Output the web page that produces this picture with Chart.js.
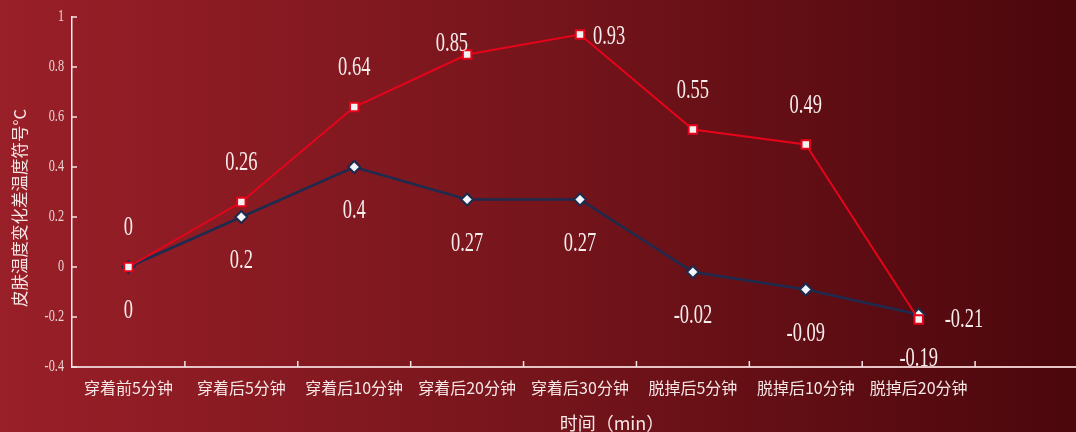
<!DOCTYPE html>
<html>
<head>
<meta charset="utf-8">
<script src="https://cdn.jsdelivr.net/npm/chart.js@4/dist/chart.umd.min.js"></script>
<style>
  html, body { margin: 0; padding: 0; overflow: hidden; }
  body { width: 1076px; height: 432px; background: linear-gradient(to right, #991f28 0%, #7a161d 45%, #4b070c 100%); }
  #wrap { width: 1096px; height: 432px; position: relative; }
</style>
</head>
<body>
<div id="wrap"><canvas id="chart"></canvas></div>
<script>
// categories (last slot is empty, the axis runs past the picture)
const categories = ['穿着前5分钟', '穿着后5分钟', '穿着后10分钟', '穿着后20分钟', '穿着后30分钟', '脱掉后5分钟', '脱掉后10分钟', '脱掉后20分钟', ''];
const redValues  = [0, 0.26, 0.64, 0.85, 0.93, 0.55, 0.49, -0.21];
const blueValues = [0, 0.2, 0.4, 0.27, 0.27, -0.02, -0.09, -0.19];
const redLabelPos  = ['top', 'top', 'top', 'topleft', 'right', 'top', 'top', 'farright'];
const blueLabelPos = ['bottom', 'bottom', 'bottom', 'bottom', 'bottom', 'bottom', 'bottom', 'bottom'];
const yTicks = [1, 0.8, 0.6, 0.4, 0.2, 0, -0.2, -0.4];
const xTitle = '时间（min）';
const yTitle = '皮肤温度变化差温度符号°C';

function condensed(ctx, text, x, y, sx) {
    ctx.save();
    ctx.translate(x, y);
    ctx.scale(sx, 1);
    ctx.fillText(text, 0, 0);
    ctx.restore();
}

const decor = {
    id: 'decor',
    afterDraw(chart) {
        const ctx = chart.ctx;
        const xs = chart.scales.x, ys = chart.scales.y;
        const area = chart.chartArea;

        // inside tick marks
        ctx.save();
        ctx.strokeStyle = '#f4e4e4';
        ctx.lineWidth = 1.5;
        yTicks.forEach(v => {
            const py = ys.getPixelForValue(v);
            ctx.beginPath(); ctx.moveTo(area.left, py); ctx.lineTo(area.left + 5, py); ctx.stroke();
        });
        for (let i = 1; i < categories.length; i++) {
            const px = (xs.getPixelForValue(i - 1) + xs.getPixelForValue(i)) / 2;
            ctx.beginPath(); ctx.moveTo(px, area.bottom); ctx.lineTo(px, area.bottom - 6); ctx.stroke();
        }

        // y tick labels (condensed serif)
        ctx.fillStyle = '#ead4d4';
        ctx.font = '17px "Liberation Serif"';
        ctx.textAlign = 'right';
        ctx.textBaseline = 'middle';
        yTicks.forEach(v => {
            condensed(ctx, String(v), area.left - 8, ys.getPixelForValue(v), 0.72);
        });

        // x category labels
        ctx.fillStyle = '#f6e6e6';
        ctx.font = '16px "Noto Sans CJK SC"';
        ctx.textAlign = 'center';
        categories.forEach((c, i) => {
            if (c) ctx.fillText(c, xs.getPixelForValue(i), area.bottom + 21);
        });

        // axis titles
        ctx.font = '18px "Noto Sans CJK SC"';
        ctx.fillText(xTitle, 612, 423);
        ctx.save();
        ctx.translate(20, 208);
        ctx.rotate(-Math.PI / 2);
        ctx.font = '16.5px "Noto Sans CJK SC"';
        ctx.fillText(yTitle, 0, 0);
        ctx.restore();

        // data labels
        ctx.fillStyle = '#f6ecec';
        ctx.font = '28px "Liberation Serif"';
        ctx.textBaseline = 'middle';
        const drawLabels = (dsIndex, values, pos) => {
            const meta = chart.getDatasetMeta(dsIndex);
            values.forEach((v, i) => {
                const pt = meta.data[i];
                let x = pt.x, y = pt.y;
                ctx.textAlign = 'center';
                if (pos[i] === 'top') y -= 39;
                else if (pos[i] === 'bottom') y += 44;
                else if (pos[i] === 'topleft') { x += 1; y -= 11; ctx.textAlign = 'right'; }
                else if (pos[i] === 'farright') { x += 26; ctx.textAlign = 'left'; }
                else { x += 13; y += 2; ctx.textAlign = 'left'; }
                condensed(ctx, String(v), x, y, 0.66);
            });
        };
        drawLabels(0, redValues, redLabelPos);
        drawLabels(1, blueValues, blueLabelPos);
        ctx.restore();
    }
};

new Chart(document.getElementById('chart'), {
    type: 'line',
    data: {
        labels: categories,
        datasets: [
            {
                label: 'red',
                data: redValues,
                borderColor: '#e6041b',
                borderWidth: 2,
                pointStyle: 'rect',
                pointRadius: 6,
                pointBackgroundColor: '#f2f2f2',
                pointBorderColor: '#e6041b',
                pointBorderWidth: 2,
                tension: 0,
                order: 0
            },
            {
                label: 'blue',
                data: blueValues,
                borderColor: '#1d2b4f',
                borderWidth: 2.5,
                pointStyle: 'rectRot',
                pointRadius: 6,
                pointBackgroundColor: '#f4f6fa',
                pointBorderColor: '#1d2b4f',
                pointBorderWidth: 2,
                tension: 0,
                order: 1
            }
        ]
    },
    options: {
        responsive: true,
        maintainAspectRatio: false,
        animation: false,
        layout: { padding: { left: 72, top: 17, bottom: 65, right: 3 } },
        plugins: { legend: { display: false }, tooltip: { enabled: false } },
        scales: {
            x: {
                offset: true,
                grid: { display: false, drawTicks: false },
                border: { display: true, color: '#e6c4c6', width: 2 },
                ticks: { display: false }
            },
            y: {
                min: -0.4,
                max: 1,
                ticks: { display: false, stepSize: 0.2 },
                grid: { display: false, drawTicks: false },
                border: { display: true, color: '#f8eeee', width: 1.5 }
            }
        }
    },
    plugins: [decor]
});
</script>
</body>
</html>
